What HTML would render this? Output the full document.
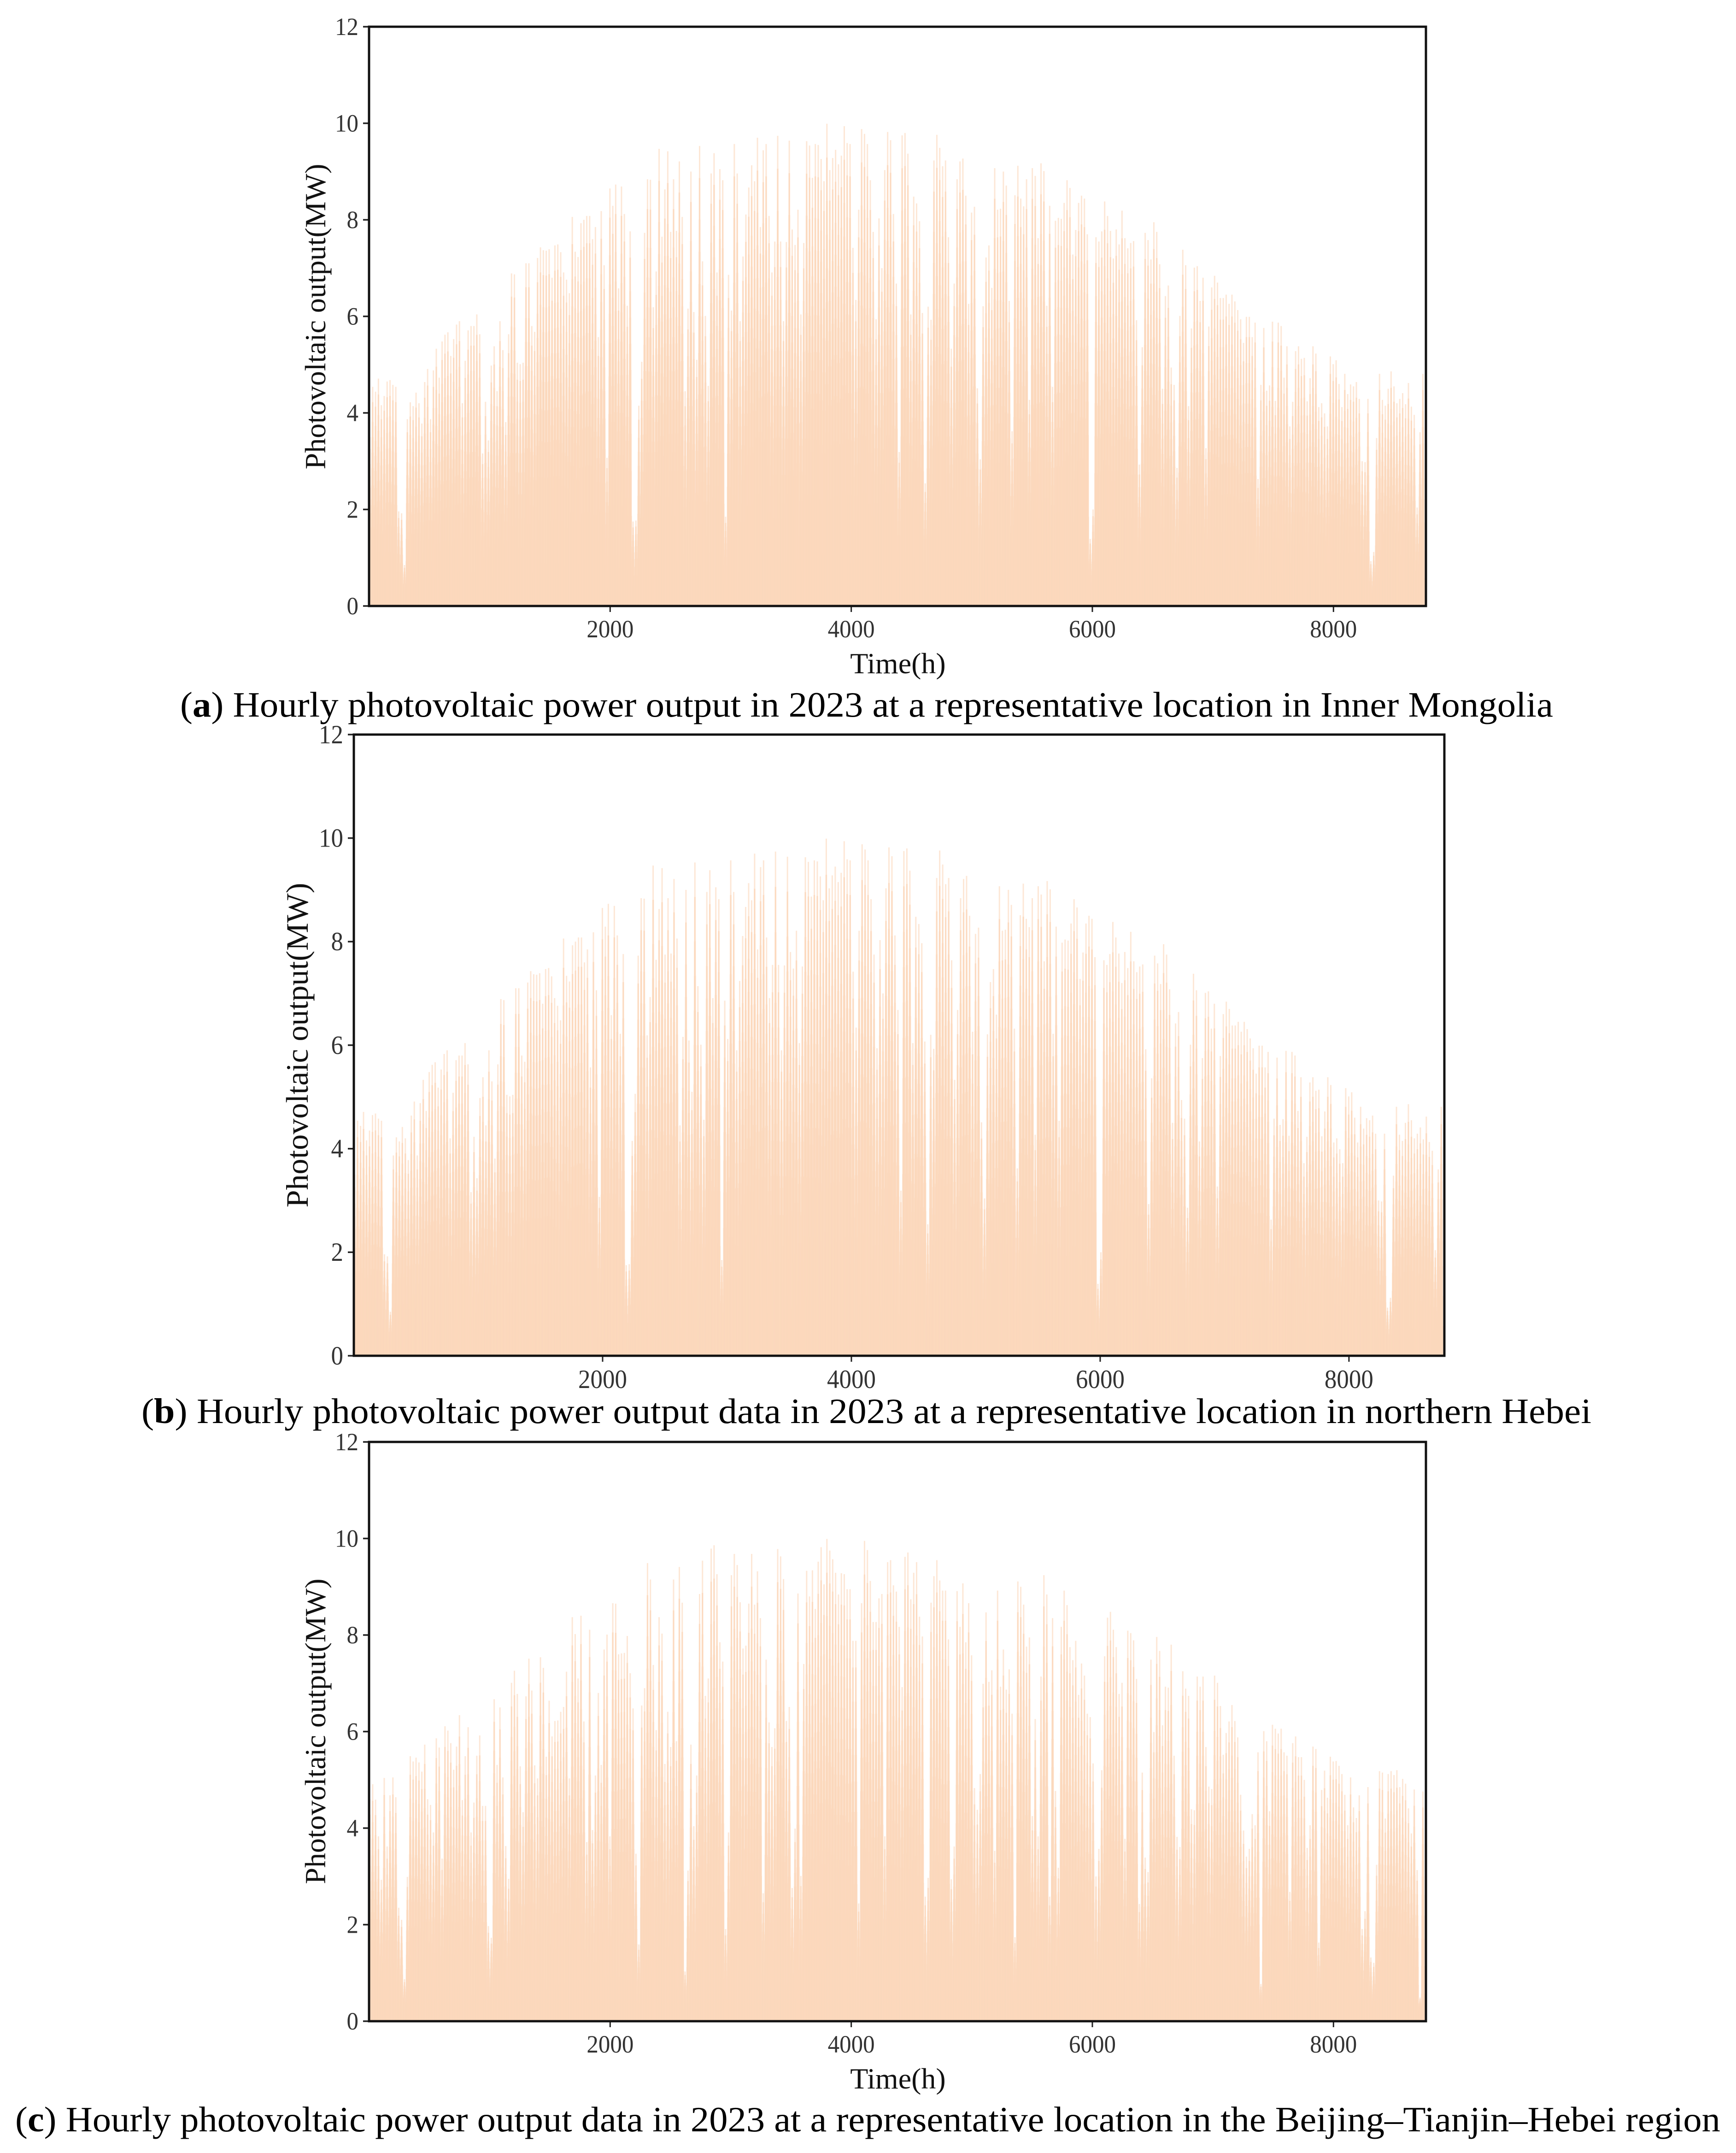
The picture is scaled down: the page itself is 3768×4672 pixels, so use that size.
<!DOCTYPE html>
<html lang="en">
<head>
<meta charset="utf-8">
<title>Hourly photovoltaic power output in 2023</title>
<style>
html,body{margin:0;padding:0;background:#fff;width:3768px;height:4672px;overflow:hidden}
svg{display:block;position:absolute;left:0;top:0}
text{font-family:"Liberation Serif",serif}
.tick{fill:#333}
.axt{fill:#111}
.cap{fill:#000;font-size:77px}
</style>
</head>
<body>
<svg id="figure" xmlns="http://www.w3.org/2000/svg" width="3768" height="4672" viewBox="0 0 3768 4672">
<rect x="0" y="0" width="3768" height="4672" fill="#fff"/>
<g id="panels"></g>
<text class="cap" x="391" y="1555" textLength="2980" lengthAdjust="spacingAndGlyphs">(<tspan font-weight="bold">a</tspan>) Hourly photovoltaic power output in 2023 at a representative location in Inner Mongolia</text>
<text class="cap" x="307" y="3088" textLength="3147" lengthAdjust="spacingAndGlyphs">(<tspan font-weight="bold">b</tspan>) Hourly photovoltaic power output data in 2023 at a representative location in northern Hebei</text>
<text class="cap" x="33" y="4625" textLength="3701" lengthAdjust="spacingAndGlyphs">(<tspan font-weight="bold">c</tspan>) Hourly photovoltaic power output data in 2023 at a representative location in the Beijing–Tianjin–Hebei region</text>
</svg>
<script>
// Daily peak output (MW), one value per day of 2023.
const innerMongoliaPeaks = [
3.5,4.54,4.44,4.71,4.16,4.35,4.65,4.68,4.58,4.54,1.96,1.92,0.85,3.87,4.22,4.14,4.42,4.2,3.78,4.64,4.91,3.87,4.88,5.33,4.73,5.48,5.62,5.67,5.18,5.53,5.83,5.9,4.2,5.08,5.71,5.8,5.8,6.04,5.63,3.16,4.23,3.43,4.98,5.38,4.45,5.9,5.3,3.81,5.63,6.89,6.87,5.04,5.01,5.04,7.1,7.1,5.8,5.68,7.21,7.43,7.37,7.36,7.39,6.8,7.47,7.49,7.33,6.91,6.76,6.48,8.06,7.34,7.23,7.93,8.0,8.08,8.08,7.6,7.85,5.57,8.18,7.06,3.07,8.65,8.29,8.73,6.58,8.69,8.12,6.22,7.76,1.75,1.77,4.15,5.06,7.73,8.84,8.83,6.19,6.93,9.47,7.65,8.63,9.42,7.75,8.84,7.77,9.21,8.06,4.45,6.16,9.0,6.09,5.1,9.53,7.14,6.01,4.56,8.96,9.38,6.91,9.05,8.82,
1.85,6.86,6.12,9.57,8.96,5.9,7.24,8.11,8.67,9.13,8.8,9.7,7.85,9.44,9.57,8.08,6.91,7.55,9.74,7.55,5.9,7.54,9.64,7.8,7.48,8.21,6.04,7.52,9.63,9.54,8.87,9.57,9.55,9.26,8.8,9.99,9.03,9.28,9.45,9.15,9.33,9.94,9.59,9.57,7.42,6.34,8.21,9.88,9.78,9.57,8.82,7.75,5.94,8.03,7.0,9.03,9.82,9.65,8.12,6.68,3.19,9.75,9.8,9.37,6.04,8.48,8.34,7.97,6.07,2.54,6.2,5.93,9.23,9.76,9.49,9.11,9.23,7.64,5.33,6.68,8.84,9.21,9.27,8.5,6.26,8.15,8.27,4.51,3.04,6.21,7.22,7.47,6.59,9.07,8.21,8.23,9.0,8.71,6.32,3.62,8.51,9.12,8.44,8.28,8.84,4.27,9.07,8.91,7.62,9.17,9.01,6.22,8.29,4.54,7.98,8.04,8.02,8.35,8.82,8.66,7.28,7.79,
8.35,8.5,8.44,7.7,1.39,2.0,7.64,7.55,7.76,8.38,8.08,7.77,7.2,7.8,7.49,8.19,7.62,7.41,7.52,7.56,5.92,2.93,5.36,7.73,7.58,7.18,7.95,7.75,7.08,4.5,6.42,6.64,4.94,4.58,2.86,6.01,7.38,7.06,4.14,5.75,7.01,7.04,6.32,6.8,3.27,5.79,6.6,6.84,6.7,6.38,6.38,6.45,6.26,6.45,6.31,6.13,5.94,5.45,5.99,5.99,5.57,5.87,2.63,4.58,5.76,4.46,4.57,5.89,4.25,5.87,5.8,4.73,5.38,3.72,4.23,5.28,5.38,5.12,5.14,4.24,4.72,5.38,5.23,4.12,4.2,3.99,3.72,5.17,5.01,5.09,4.6,4.12,4.81,4.39,4.59,4.55,4.64,4.29,3.0,2.98,4.29,0.93,1.12,3.48,4.81,4.27,4.15,4.5,4.86,4.55,4.2,4.29,4.41,4.18,4.62,4.13,3.96,2.04,3.6,4.81
];
const northernHebeiPeaks = [
3.5,4.54,4.44,4.71,4.16,4.35,4.65,4.68,4.58,4.54,1.96,1.92,0.85,3.87,4.22,4.14,4.42,4.2,3.78,4.64,4.91,3.87,4.88,5.33,4.73,5.48,5.62,5.67,5.18,5.53,5.83,5.9,4.2,5.08,5.71,5.8,5.8,6.04,5.63,3.16,4.23,3.43,4.98,5.38,4.45,5.9,5.3,3.81,5.63,6.89,6.87,5.04,5.01,5.04,7.1,7.1,5.8,5.68,7.21,7.43,7.37,7.36,7.39,6.8,7.47,7.49,7.33,6.91,6.76,6.48,8.06,7.34,7.23,7.93,8.0,8.08,8.08,7.6,7.85,5.57,8.18,7.06,3.07,8.65,8.29,8.73,6.58,8.69,8.12,6.22,7.76,1.75,1.77,4.15,5.06,7.73,8.84,8.83,6.19,6.93,9.47,7.65,8.63,9.42,7.75,8.84,7.77,9.21,8.06,4.45,6.16,9.0,6.09,5.1,9.53,7.14,6.01,4.56,8.96,9.38,6.91,9.05,8.82,
1.85,6.86,6.12,9.57,8.96,5.9,7.24,8.11,8.67,9.13,8.8,9.7,7.85,9.44,9.57,8.08,6.91,7.55,9.74,7.55,5.9,7.54,9.64,7.8,7.48,8.21,6.04,7.52,9.63,9.54,8.87,9.57,9.55,9.26,8.8,9.99,9.03,9.28,9.45,9.15,9.33,9.94,9.59,9.57,7.42,6.34,8.21,9.88,9.78,9.57,8.82,7.75,5.94,8.03,7.0,9.03,9.82,9.65,8.12,6.68,3.19,9.75,9.8,9.37,6.04,8.48,8.34,7.97,6.07,2.54,6.2,5.93,9.23,9.76,9.49,9.11,9.23,7.64,5.33,6.68,8.84,9.21,9.27,8.5,6.26,8.15,8.27,4.51,3.04,6.21,7.22,7.47,6.59,9.07,8.21,8.23,9.0,8.71,6.32,3.62,8.51,9.12,8.44,8.28,8.84,4.27,9.07,8.91,7.62,9.17,9.01,6.22,8.29,4.54,7.98,8.04,8.02,8.35,8.82,8.66,7.28,7.79,
8.35,8.5,8.44,7.7,1.39,2.0,7.64,7.55,7.76,8.38,8.08,7.77,7.2,7.8,7.49,8.19,7.62,7.41,7.52,7.56,5.92,2.93,5.36,7.73,7.58,7.18,7.95,7.75,7.08,4.5,6.42,6.64,4.94,4.58,2.86,6.01,7.38,7.06,4.14,5.75,7.01,7.04,6.32,6.8,3.27,5.79,6.6,6.84,6.7,6.38,6.38,6.45,6.26,6.45,6.31,6.13,5.94,5.45,5.99,5.99,5.57,5.87,2.63,4.58,5.76,4.46,4.57,5.89,4.25,5.87,5.8,4.73,5.38,3.72,4.23,5.28,5.38,5.12,5.14,4.24,4.72,5.38,5.23,4.12,4.2,3.99,3.72,5.17,5.01,5.09,4.6,4.12,4.81,4.39,4.59,4.55,4.64,4.29,3.0,2.98,4.29,0.93,1.12,3.48,4.81,4.27,4.15,4.5,4.86,4.55,4.2,4.29,4.41,4.18,4.62,4.13,3.96,2.04,3.6,4.81
];
const beijingTianjinHebeiPeaks = [
4.6,4.91,4.59,3.83,2.93,5.04,3.62,4.68,5.05,4.64,2.35,2.1,0.87,2.99,5.49,5.38,5.46,5.36,5.17,5.73,4.6,4.48,3.91,5.86,5.67,3.37,6.11,6.02,5.76,5.21,5.69,6.34,4.58,5.49,6.09,3.91,4.53,5.5,5.92,4.46,4.46,1.97,1.73,6.67,5.31,6.5,5.05,3.63,2.95,7.01,7.26,6.78,5.28,4.33,6.73,7.51,6.85,5.3,5.03,7.54,7.32,5.48,6.64,5.9,6.22,6.23,6.41,6.51,7.24,5.03,8.37,8.02,7.1,8.4,6.21,3.71,8.11,3.96,5.09,6.8,5.31,7.7,8.01,3.83,8.66,8.65,7.6,7.62,7.63,7.98,7.21,6.48,3.47,1.59,6.54,6.9,9.49,9.15,7.38,6.03,8.37,8.03,5.33,6.41,5.68,9.15,5.8,9.41,8.67,1.03,3.12,5.73,4.04,5.09,8.85,9.54,6.74,7.1,9.79,9.86,9.26,7.85,7.45,
1.91,3.91,9.24,9.68,9.45,8.68,7.72,7.78,8.65,9.68,8.63,9.32,8.35,2.65,7.49,6.19,5.68,6.07,9.78,9.63,9.16,6.22,6.51,2.76,3.99,8.86,3.01,7.4,9.33,8.8,9.34,8.54,9.52,9.82,9.05,9.99,9.75,9.57,9.29,8.84,9.28,9.26,8.95,8.95,7.88,7.88,2.44,8.66,9.95,9.76,9.12,8.27,8.27,8.76,8.85,3.83,9.51,9.55,9.03,8.9,8.17,6.92,9.62,9.71,8.74,9.29,9.51,8.38,7.97,2.58,2.97,8.67,9.22,9.55,9.13,8.92,8.92,7.91,2.94,3.62,8.91,8.17,9.07,7.85,8.66,7.58,4.83,4.38,5.12,6.99,8.47,7.03,7.27,3.53,8.92,6.93,7.7,6.87,7.29,6.37,1.74,9.11,9.0,8.63,7.76,7.95,4.25,6.26,3.83,7.14,9.24,8.84,2.58,8.35,4.77,3.18,8.17,8.92,8.62,7.75,7.48,7.88,
6.76,7.41,7.16,6.37,6.3,5.34,3.0,3.57,5.2,7.56,8.36,8.48,8.11,7.75,6.78,7.01,3.78,8.09,8.04,7.89,7.09,2.43,5.15,3.39,3.09,7.49,5.99,7.96,7.67,6.13,6.93,6.91,7.8,5.5,3.82,3.61,7.25,6.89,6.74,4.39,4.37,7.14,6.93,7.14,5.68,4.86,4.81,7.16,7.01,6.53,5.52,5.97,6.21,6.55,6.22,5.88,4.69,3.95,3.41,3.57,4.29,4.06,5.57,0.77,6.01,5.8,4.35,6.14,6.06,5.96,6.06,5.57,5.5,2.68,5.76,5.9,5.47,5.47,5.0,3.59,4.06,5.69,5.64,1.63,4.79,5.19,4.63,5.48,5.38,5.39,5.29,5.12,4.69,4.06,5.05,4.43,4.21,4.68,1.91,2.28,4.85,1.32,1.21,3.24,5.18,5.15,4.2,5.12,5.18,5.1,5.2,4.85,5.02,4.92,4.41,3.89,4.8,3.13,0.49,4.76
];
// Share of the day's peak reached at each hour around the daily maximum.
const hourOffsets = [-10,-9,-8,-7,-6,-5,-4,-3,-2,-1,0,1,2,3,4,5,6,7,8,9,10];
const hourShares = [0.12,0.24,0.36,0.46,0.55,0.63,0.7,0.77,0.84,0.93,1,0.93,0.84,0.77,0.7,0.63,0.55,0.46,0.36,0.24,0.12];
const yTickValues = [0,2,4,6,8,10,12];
const xTickValues = [2000,4000,6000,8000];
const yDomainMax = 12;
const xDomainMax = 8767;
const peakHourOfDay = 6;
const hoursPerDay = 24;

const SVGNS = 'http://www.w3.org/2000/svg';
const panelsRoot = document.getElementById('panels');

function drawPanel(cfg, peaks) {
  const g = document.createElementNS(SVGNS, 'g');
  
  
  panelsRoot.appendChild(g);

  const xScale = function (h) { return cfg.left + (cfg.right - cfg.left) * h / xDomainMax; };
  const yScale = function (v) { return cfg.bottom - (cfg.bottom - cfg.top) * v / yDomainMax; };

  const clipId = 'clip-' + cfg.id;
  const defs = document.createElementNS(SVGNS, 'defs');
  const clip = document.createElementNS(SVGNS, 'clipPath');
  clip.setAttribute('id', clipId);
  const clipRect = document.createElementNS(SVGNS, 'rect');
  clipRect.setAttribute('x', cfg.left);
  clipRect.setAttribute('y', cfg.top);
  clipRect.setAttribute('width', cfg.right - cfg.left);
  clipRect.setAttribute('height', cfg.bottom - cfg.top);
  clip.appendChild(clipRect);
  defs.appendChild(clip);
  g.appendChild(defs);

  const bars = document.createElementNS(SVGNS, 'g');
  
  
  bars.setAttribute('clip-path', 'url(#' + clipId + ')');
  bars.setAttribute('fill', '#fbd8bd');
  bars.setAttribute('fill-opacity', '0.62');
  g.appendChild(bars);

  const barWidth = cfg.barWidth;
  peaks.forEach(function (peak, day) {
    hourOffsets.forEach(function (offset, i) {
      const hour = day * hoursPerDay + peakHourOfDay + offset;
      const value = peak * hourShares[i];
      const r = document.createElementNS(SVGNS, 'rect');
      
      
      r.setAttribute('x', (xScale(hour) - barWidth / 2).toFixed(2));
      r.setAttribute('y', yScale(value).toFixed(1));
      r.setAttribute('width', barWidth);
      r.setAttribute('height', (cfg.bottom - yScale(value)).toFixed(1));
      bars.appendChild(r);
    });
  });

  yTickValues.forEach(function (v) {
    const y = yScale(v);
    const t = document.createElementNS(SVGNS, 'line');
    
    
    t.setAttribute('x1', cfg.left - 13);
    t.setAttribute('x2', cfg.left);
    t.setAttribute('y1', y);
    t.setAttribute('y2', y);
    t.setAttribute('stroke', '#222');
    t.setAttribute('stroke-width', '3.5');
    g.appendChild(t);
    const l = document.createElementNS(SVGNS, 'text');
    
    
    l.setAttribute('class', 'tick');
    l.setAttribute('x', cfg.left - 23);
    l.setAttribute('y', y + cfg.tickSize * 0.33);
    l.setAttribute('text-anchor', 'end');
    l.setAttribute('font-size', cfg.tickSize);
    l.setAttribute('textLength', String(v).length * cfg.digitWidth);
    l.setAttribute('lengthAdjust', 'spacingAndGlyphs');
    l.textContent = String(v);
    g.appendChild(l);
  });

  xTickValues.forEach(function (v) {
    const x = xScale(v);
    const t = document.createElementNS(SVGNS, 'line');
    
    
    t.setAttribute('x1', x);
    t.setAttribute('x2', x);
    t.setAttribute('y1', cfg.bottom);
    t.setAttribute('y2', cfg.bottom + 13);
    t.setAttribute('stroke', '#222');
    t.setAttribute('stroke-width', '3');
    g.appendChild(t);
    const l = document.createElementNS(SVGNS, 'text');
    
    
    l.setAttribute('class', 'tick');
    l.setAttribute('x', x);
    l.setAttribute('y', cfg.bottom + cfg.xLabelDy);
    l.setAttribute('text-anchor', 'middle');
    l.setAttribute('font-size', cfg.tickSize);
    l.setAttribute('textLength', String(v).length * cfg.digitWidth);
    l.setAttribute('lengthAdjust', 'spacingAndGlyphs');
    l.textContent = String(v);
    g.appendChild(l);
  });

  const frame = document.createElementNS(SVGNS, 'rect');
  
  
  frame.setAttribute('x', cfg.left);
  frame.setAttribute('y', cfg.top);
  frame.setAttribute('width', cfg.right - cfg.left);
  frame.setAttribute('height', cfg.bottom - cfg.top);
  frame.setAttribute('fill', 'none');
  frame.setAttribute('stroke', '#111');
  frame.setAttribute('stroke-width', '5');
  g.appendChild(frame);

  const yLabel = document.createElementNS(SVGNS, 'text');
  
  
  yLabel.setAttribute('class', 'axt');
  yLabel.setAttribute('font-size', cfg.labelSize);
  yLabel.setAttribute('text-anchor', 'middle');
  yLabel.setAttribute('transform', 'translate(' + cfg.yLabelX + ',' + cfg.yLabelY + ') rotate(-90)');
  yLabel.textContent = 'Photovoltaic output(MW)';
  g.appendChild(yLabel);

  if (cfg.showXTitle) {
    const xLabel = document.createElementNS(SVGNS, 'text');
    
    
    xLabel.setAttribute('class', 'axt');
    xLabel.setAttribute('font-size', cfg.labelSize);
    xLabel.setAttribute('text-anchor', 'middle');
    xLabel.setAttribute('x', 1949);
    xLabel.setAttribute('y', cfg.bottom + 146);
    xLabel.textContent = 'Time(h)';
    g.appendChild(xLabel);
  }
}

drawPanel({id:'a',left:801,right:3095,top:58,bottom:1315,tickSize:54,digitWidth:25.5,labelSize:64,xLabelDy:68,yLabelX:706,yLabelY:687,showXTitle:true,barWidth:3}, innerMongoliaPeaks);
drawPanel({id:'b',left:768,right:3135,top:1594,bottom:2942,tickSize:57,digitWidth:26.5,labelSize:68,xLabelDy:70,yLabelX:668,yLabelY:2268,showXTitle:false,barWidth:3}, northernHebeiPeaks);
drawPanel({id:'c',left:801,right:3095,top:3129,bottom:4386,tickSize:54,digitWidth:25.5,labelSize:64,xLabelDy:68,yLabelX:706,yLabelY:3757,showXTitle:true,barWidth:3}, beijingTianjinHebeiPeaks);
</script>
</body>
</html>
